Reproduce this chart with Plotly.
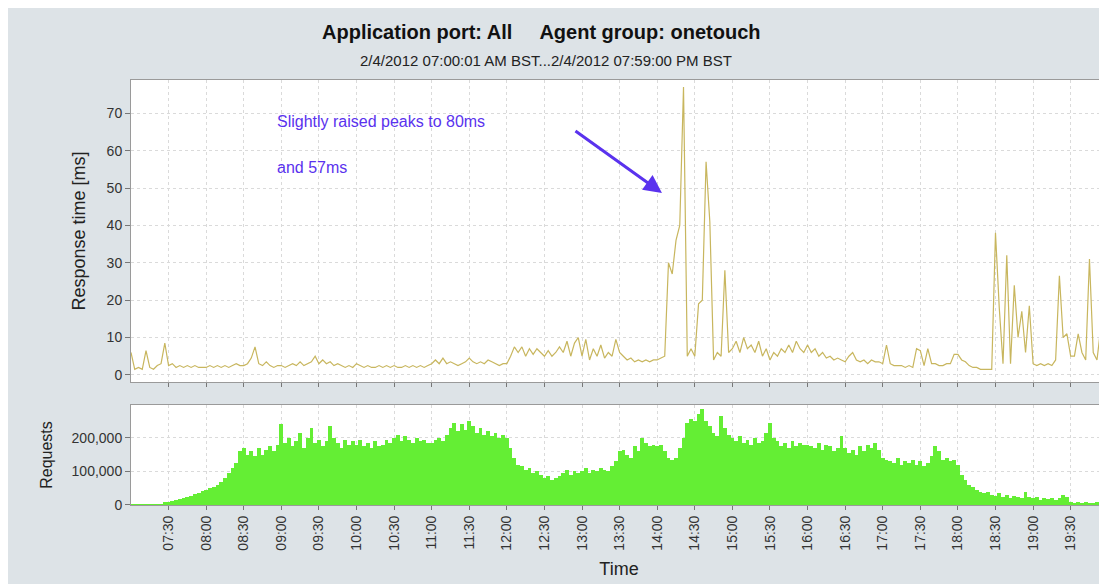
"""Response time and request volume for the onetouch agent group, one day."""
import pandas as pd
import plotly.graph_objects as go
from plotly.subplots import make_subplots

# 3-minute samples, 07:00 .. 19:57 (one row per hour, 20 samples each)
response_ms = [
    6, 1.5, 2, 1.5, 6.5, 2, 1.5, 2.5, 3, 8.5, 2.5, 3, 2, 2.5, 2, 2.5, 2, 2.5, 2, 2,
    2, 2.5, 2, 2.5, 2, 2.5, 2, 2.5, 3, 2.5, 2.5, 3, 4.5, 7.5, 3, 2.5, 3.5, 2.5, 2, 2.5,
    2.5, 2, 2.5, 3, 2.5, 3.5, 2.5, 3, 3.5, 5, 3, 4, 3, 3.5, 2.5, 3, 2.5, 2, 2.5, 2,
    3, 2.5, 2, 2.5, 2, 2, 2.5, 2, 2.5, 2, 2.5, 2, 2, 2.5, 2, 2.5, 2, 2.5, 2, 2.5,
    3, 4, 3, 4.5, 3, 3.5, 3, 2.5, 3, 3.5, 4.5, 3.5, 3, 3.5, 3, 4, 3.5, 3, 2.5, 3,
    3, 5, 7.5, 6, 7.5, 5, 7, 5.5, 7, 6, 5, 6.5, 5, 6, 7.5, 6, 9, 5, 8.5, 10,
    5, 9.5, 4, 7, 5, 8, 4.5, 6, 5, 9.5, 6, 5, 4, 4.5, 3.5, 4, 3.5, 4, 3.5, 4,
    4, 4.5, 5, 30, 27, 36, 40, 77, 5, 7, 5, 19, 20, 57, 41, 4, 6, 5, 28, 6,
    7, 9, 6, 10, 7, 8, 6, 9, 5, 7, 4, 6, 5, 7, 6, 8, 6, 9, 7, 6,
    8, 6, 7, 5, 6, 4.5, 5, 4, 4.5, 4, 3.5, 5, 6, 4, 3.5, 4, 3, 4, 3.5, 3.5,
    3, 8, 3, 2.5, 2.5, 2.5, 2, 2.5, 2, 7, 6.5, 2.5, 7, 3, 3, 2.5, 2.5, 3, 3, 5.5,
    5.5, 4, 3.5, 2.5, 2, 2, 1.5, 1.5, 1.5, 1.5, 38, 18, 3, 32, 3, 24, 10, 17, 6, 18.5,
    3, 2.5, 3, 2.5, 3, 2.5, 4, 26.5, 10, 11, 5, 5, 11, 6, 4, 31, 6, 4, 12.5, 3,
]

requests = [
    1000, 1500, 1500, 2000, 1500, 2000, 2000, 2500, 3000, 8000,
    10000, 12000, 15000, 18000, 22000, 25000, 28000, 32000, 35000, 42000,
    45000, 50000, 55000, 60000, 70000, 80000, 95000, 110000, 125000, 160000,
    170000, 150000, 160000, 145000, 170000, 150000, 165000, 175000, 160000, 180000,
    240000, 185000, 200000, 175000, 190000, 215000, 170000, 200000, 230000, 185000,
    195000, 175000, 190000, 235000, 200000, 185000, 170000, 195000, 180000, 190000,
    180000, 195000, 175000, 185000, 170000, 190000, 175000, 180000, 195000, 185000,
    200000, 210000, 190000, 205000, 195000, 185000, 200000, 190000, 195000, 185000,
    185000, 195000, 200000, 190000, 210000, 230000, 245000, 220000, 240000, 225000,
    250000, 235000, 215000, 230000, 210000, 220000, 205000, 215000, 200000, 210000,
    200000, 170000, 140000, 120000, 115000, 105000, 110000, 95000, 100000, 90000,
    80000, 85000, 75000, 80000, 85000, 95000, 105000, 90000, 100000, 95000,
    100000, 110000, 95000, 105000, 100000, 110000, 105000, 100000, 115000, 130000,
    160000, 165000, 150000, 140000, 175000, 160000, 200000, 185000, 175000, 180000,
    175000, 180000, 160000, 140000, 135000, 140000, 170000, 200000, 245000, 255000,
    250000, 270000, 285000, 250000, 235000, 215000, 205000, 265000, 230000, 210000,
    200000, 190000, 205000, 185000, 195000, 180000, 200000, 185000, 190000, 215000,
    245000, 200000, 190000, 175000, 185000, 170000, 190000, 175000, 185000, 180000,
    180000, 175000, 170000, 185000, 165000, 180000, 175000, 160000, 170000, 205000,
    170000, 155000, 165000, 150000, 175000, 160000, 180000, 170000, 185000, 165000,
    140000, 135000, 130000, 125000, 140000, 120000, 130000, 125000, 135000, 120000,
    130000, 115000, 125000, 145000, 175000, 160000, 135000, 140000, 130000, 135000,
    120000, 90000, 75000, 60000, 55000, 45000, 40000, 35000, 40000, 30000,
    28000, 35000, 25000, 30000, 22000, 28000, 25000, 20000, 40000, 25000,
    20000, 25000, 15000, 20000, 18000, 22000, 15000, 20000, 30000, 25000,
    8000, 7000, 8000, 7000, 8000, 7000, 7000, 8000, 7000, 8000,
]

times = pd.date_range("2012-04-02 07:00", periods=len(response_ms), freq="3min")
tick_times = pd.date_range("2012-04-02 07:30", "2012-04-02 19:30", freq="30min")
tick_labels = [t.strftime("%H:%M") for t in tick_times]

title_text = "Application port: All     Agent group: onetouch"
subtitle_text = "2/4/2012 07:00:01 AM BST...2/4/2012 07:59:00 PM BST"

FONT = "Liberation Sans, Arial, sans-serif"
BG = "#dde3e7"
GRID = "#dadada"
NOTE = "#5a32ee"

fig = make_subplots(rows=2, cols=1, shared_xaxes=True)

fig.add_trace(go.Scatter(x=times, y=response_ms, mode="lines",
                         line=dict(color="#c8b65e", width=1.2),
                         showlegend=False), row=1, col=1)
fig.add_trace(go.Bar(x=times, y=requests, width=180000,
                     marker=dict(color="#64ee34", line=dict(width=0)),
                     showlegend=False), row=2, col=1)

fig.update_xaxes(type="date", range=["2012-04-02 07:00:01", "2012-04-02 19:59:00"],
                 tickvals=tick_times, ticktext=tick_labels,
                 showgrid=True, gridcolor=GRID, griddash="3px,3px",
                 showline=True, mirror=True, linecolor="#9a9a9a",
                 ticks="outside", ticklen=4, tickcolor="#777",
                 tickfont=dict(size=14, color="#333"))
fig.update_xaxes(tickangle=-90, title=dict(text="Time", font=dict(size=18, color="#222"),
                                            standoff=12), row=2, col=1)

fig.update_yaxes(showgrid=True, gridcolor=GRID, griddash="3px,3px", zeroline=False,
                 showline=True, mirror=True, linecolor="#9a9a9a",
                 ticks="outside", ticklen=5, tickcolor="#777",
                 tickfont=dict(size=14, color="#333"))
fig.update_yaxes(range=[-1.9, 78.9], dtick=10, domain=[0.2894, 1.0],
                 title=dict(text="Response time [ms]", font=dict(size=18, color="#222"),
                            standoff=16), row=1, col=1)
fig.update_yaxes(range=[0, 298000], dtick=100000, tickformat=",d", domain=[0.0, 0.2353],
                 title=dict(text="Requests", font=dict(size=16, color="#222"),
                            standoff=14), row=2, col=1)

annotations = [
    dict(text=f"<b>{title_text}</b>", xref="paper", yref="paper", x=0.42, y=1.113,
         xanchor="center", yanchor="middle", showarrow=False,
         font=dict(size=20, color="#111", family=FONT)),
    dict(text=subtitle_text, xref="paper", yref="paper", x=0.425, y=1.047,
         xanchor="center", yanchor="middle", showarrow=False,
         font=dict(size=15, color="#222", family=FONT)),
    dict(text="Slightly raised peaks to 80ms", x="2012-04-02 08:55", y=67.9,
         xref="x", yref="y", xanchor="left", yanchor="middle", showarrow=False,
         font=dict(size=16, color=NOTE, family=FONT)),
    dict(text="and 57ms", x="2012-04-02 08:55", y=55.6,
         xref="x", yref="y", xanchor="left", yanchor="middle", showarrow=False,
         font=dict(size=16, color=NOTE, family=FONT)),
    dict(text="", x="2012-04-02 14:03:48", y=48.7, xref="x", yref="y",
         showarrow=True, ax=-88, ay=-63, arrowhead=2, arrowsize=1.2,
         arrowwidth=3, arrowcolor=NOTE),
]

# the page body adds an 8px white border, so the figure is 8px smaller
fig.update_layout(
    width=1099, height=576,
    margin=dict(l=123, r=0, t=72, b=79),
    paper_bgcolor=BG, plot_bgcolor="white",
    font=dict(family=FONT, color="#222"),
    bargap=0,
    annotations=annotations,
)

fig.write_html("out.html")
